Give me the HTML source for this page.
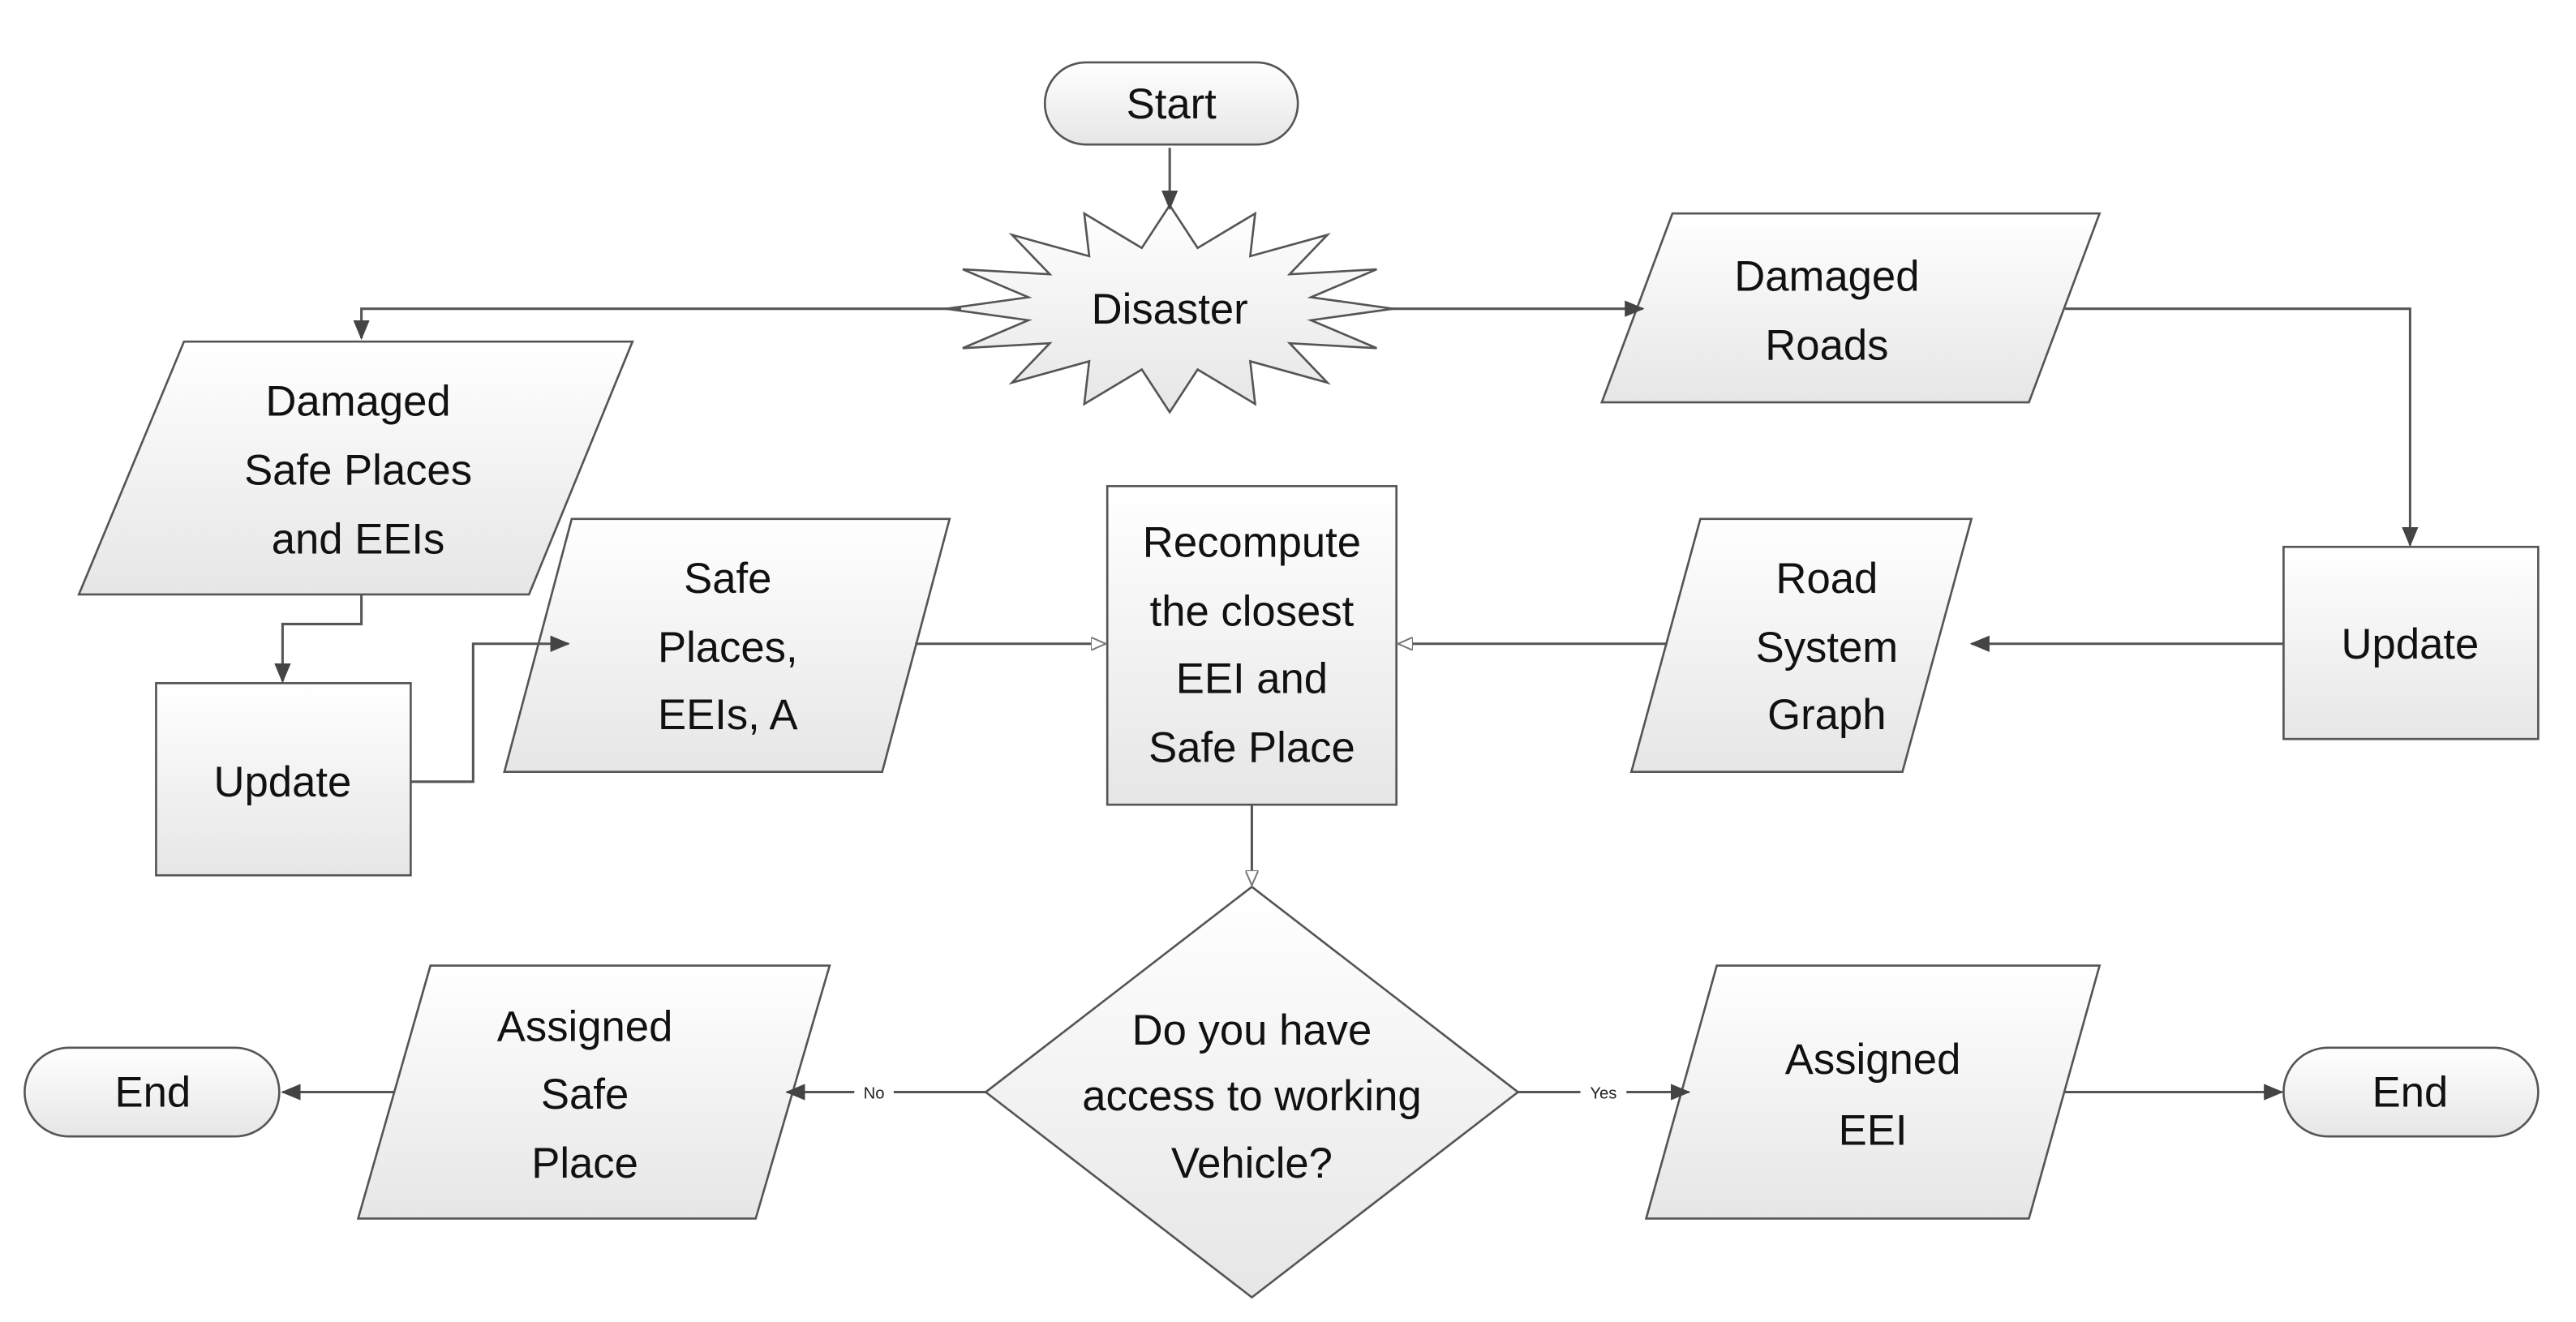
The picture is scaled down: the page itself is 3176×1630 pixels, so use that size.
<!DOCTYPE html>
<html><head><meta charset="utf-8"><style>html,body{margin:0;padding:0;background:#fff}svg{display:block}</style></head>
<body>
<svg width="3176" height="1630" viewBox="0 0 1568 805" preserveAspectRatio="none" xmlns="http://www.w3.org/2000/svg">
<defs>
<linearGradient id="g" x1="0" y1="0" x2="0" y2="1"><stop offset="0" stop-color="#ffffff"/><stop offset="1" stop-color="#e6e6e6"/></linearGradient>
<marker id="a" markerWidth="12" markerHeight="10" refX="11" refY="5" orient="auto" markerUnits="userSpaceOnUse"><path d="M0,0 L12,5 L0,10 z" fill="#444"/></marker>
<marker id="h" markerWidth="10" markerHeight="8" refX="9" refY="4" orient="auto" markerUnits="userSpaceOnUse"><path d="M0,0 L9,4 L0,8 z" fill="#fff" stroke="#777" stroke-width="1"/></marker>
</defs>
<g fill="url(#g)" stroke="#555" stroke-width="1.3">
<rect x="636" y="38" width="154" height="50" rx="25"/>
<polygon points="848,188 798,195 838,212 785,209 808,233 761,220 764,246 729,225 712,251 695,225 660,246 663,220 616,233 639,209 586,212 626,195 576,188 626,181 586,164 639,167 616,143 663,156 660,130 695,151 712,125 729,151 764,130 761,156 808,143 785,167 838,164 798,181"/>
<polygon points="1018,130 1278,130 1235,245 975,245"/>
<rect x="1390" y="333" width="155" height="117"/>
<polygon points="1035,316 1200,316 1158,470 993,470"/>
<rect x="674" y="296" width="176" height="194"/>
<polygon points="112,208 385,208 322,362 48,362"/>
<rect x="95" y="416" width="155" height="117"/>
<polygon points="348,316 578,316 537,470 307,470"/>
<polygon points="762,540 924,665 762,790 600,665"/>
<polygon points="262,588 505,588 460,742 218,742"/>
<rect x="15" y="638" width="155" height="54" rx="27"/>
<polygon points="1045,588 1278,588 1235,742 1002,742"/>
<rect x="1390" y="638" width="155" height="54" rx="27"/>
</g>
<g fill="none" stroke="#555" stroke-width="1.5">
<path d="M712,90 V127" marker-end="url(#a)"/>
<path d="M585,188 H220 V206" marker-end="url(#a)"/>
<path d="M845,188 H1000" marker-end="url(#a)"/>
<path d="M1257,188 H1467 V332" marker-end="url(#a)"/>
<path d="M1390,392 H1200" marker-end="url(#a)"/>
<path d="M1015,392 H851" marker-end="url(#h)"/>
<path d="M220,362 V380 H172 V415" marker-end="url(#a)"/>
<path d="M250,476 H288 V392 H346" marker-end="url(#a)"/>
<path d="M557,392 H673" marker-end="url(#h)"/>
<path d="M762,490 V539" marker-end="url(#h)"/>
<path d="M600,665 H479" marker-end="url(#a)"/>
<path d="M240,665 H172" marker-end="url(#a)"/>
<path d="M924,665 H1028" marker-end="url(#a)"/>
<path d="M1257,665 H1389" marker-end="url(#a)"/>
</g>
<rect x="520" y="657" width="24" height="16" fill="#fff"/>
<rect x="962" y="657" width="28" height="16" fill="#fff"/>
<g font-family="Liberation Sans, sans-serif" font-size="10" fill="#222" text-anchor="middle">
<text x="532" y="669">No</text><text x="976" y="669">Yes</text>
</g>
<g font-family="Liberation Sans, sans-serif" font-size="26" fill="#111" text-anchor="middle">
<text x="713" y="72">Start</text>
<text x="712" y="197">Disaster</text>
<text x="1112" y="177">Damaged</text><text x="1112" y="219">Roads</text>
<text x="1467" y="401">Update</text>
<text x="1112" y="361">Road</text><text x="1112" y="403">System</text><text x="1112" y="444">Graph</text>
<text x="762" y="339">Recompute</text><text x="762" y="381">the closest</text><text x="762" y="422">EEI and</text><text x="762" y="464">Safe Place</text>
<text x="218" y="253">Damaged</text><text x="218" y="295">Safe Places</text><text x="218" y="337">and EEIs</text>
<text x="172" y="485">Update</text>
<text x="443" y="361">Safe</text><text x="443" y="403">Places,</text><text x="443" y="444">EEIs, A</text>
<text x="762" y="636">Do you have</text><text x="762" y="676">access to working</text><text x="762" y="717">Vehicle?</text>
<text x="356" y="634">Assigned</text><text x="356" y="675">Safe</text><text x="356" y="717">Place</text>
<text x="93" y="674">End</text>
<text x="1140" y="654">Assigned</text><text x="1140" y="697">EEI</text>
<text x="1467" y="674">End</text>
</g>
</svg>
</body></html>
